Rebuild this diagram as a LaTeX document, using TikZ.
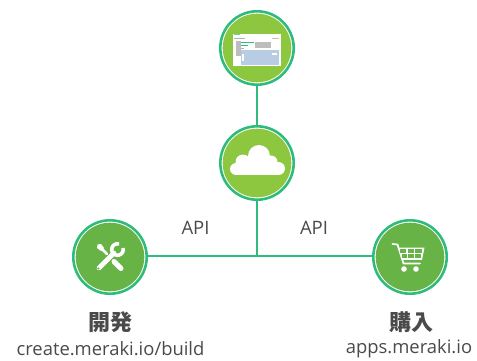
\documentclass[tikz,border=0pt]{standalone}
\usepackage{fontspec}
\setmainfont{Open Sans}
\newfontfamily\cjk{Noto Sans CJK JP}
\definecolor{ringgreen}{HTML}{2FBB7C}
\definecolor{lightfill}{HTML}{8DC63F}
\definecolor{darkfill}{HTML}{67B346}
\definecolor{labelgray}{HTML}{4A4A4A}
\definecolor{thumbblue}{HTML}{B8CCE4}
\definecolor{thumbgray}{HTML}{BDBDBD}
\tikzset{
  hub/.style={circle,draw=ringgreen,line width=2.6pt,minimum size=73.4pt,inner sep=0pt,outer sep=0pt,fill=white},
  wire/.style={draw=ringgreen,line width=1.8pt},
  apilabel/.style={text=labelgray,font=\fontsize{18.5}{20}\selectfont,inner sep=0pt},
  titlelabel/.style={text=labelgray,font=\cjk\bfseries\fontsize{22}{24}\selectfont,inner sep=0pt},
  urllabel/.style={text=labelgray,font=\fontsize{18.4}{20}\selectfont,inner sep=0pt},
}
\begin{document}
\begin{tikzpicture}[x=1pt,y=-1pt]
\useasboundingbox (0,0) rectangle (477,361);
\node[hub] (dash) at (257,48) {};
\node[hub] (cloud) at (257,163) {};
\node[hub] (dev) at (110,257) {};
\node[hub] (shop) at (410,257) {};
\coordinate (junction) at (257,256);
\draw[wire] (dash) -- (cloud);
\draw[wire] (cloud) -- (junction);
\draw[wire] (dev.east |- junction) -- (shop.west |- junction);
% inner discs
\fill[lightfill] (dash.center) circle (34.3);
\fill[lightfill] (cloud.center) circle (34.3);
\fill[darkfill] (dev.center) circle (34.3);
\fill[darkfill] (shop.center) circle (34.3);
% dashboard thumbnail
\begin{scope}[shift={(dash.center)}]
\fill[white] (-24,-14) rectangle (23.5,18);
\fill[ringgreen!70] (-23,-13.5) rectangle (-17,-12.5);
\fill[black!30] (-23,-10) rectangle (-12,-9.2);
\fill[black!25] (15,-9.5) rectangle (22,-8.7);
\fill[thumbgray] (-21,-6.5) rectangle (-16.5,8.5);
\fill[ringgreen] (-16,-5.8) rectangle (-3,-4.6);
\fill[ringgreen] (-16,-2.6) rectangle (-9,-1.6);
\fill[thumbgray] (-2.5,-6) rectangle (13.5,0);
\fill[black!30] (-16,0.2) rectangle (-13,1);
\fill[thumbblue] (-16,2) rectangle (22,17.5);
\fill[white] (15,5.5) rectangle (20,7.2);
\fill[white] (-15.5,6) rectangle (-13.2,13.5);
\end{scope}
% cloud
\begin{scope}[shift={(cloud.center)}]
\fill[white] (-21,6) circle (6);
\fill[white] (-14,-1) circle (7.5);
\fill[white] (2,-7) circle (11);
\fill[white] (14,-1) circle (6.5);
\fill[white] (21.5,5.5) circle (6.5);
\fill[white] (-21,0) rectangle (21.5,12);
\end{scope}
% tools
\begin{scope}[shift={(dev.center)}]
\draw[white,line width=5pt,line cap=round] (4,4.5) -- (11,11.5);
\draw[white,line width=2.6pt,line cap=round] (-3,-3) -- (-10.5,-10.5);
\fill[white] (-12.5,-12.5) -- (-9,-13) -- (-6,-9) -- (-9,-6) -- (-13,-9) -- cycle;
\draw[white,line width=4.6pt,line cap=round] (-11,11) -- (4,-4);
\draw[white,line width=3.6pt] (7.5,-7.5) ++(-15:5.8) arc[start angle=-15,end angle=285,radius=5.8];
\fill[darkfill] (-11.5,11.5) circle (1.2);
\end{scope}
% cart
\begin{scope}[shift={(shop.center)}]
\draw[white,line width=1.7pt,line cap=round,line join=round] (-17.5,-13) -- (-12.5,-12.5) -- (-6.5,6.5) -- (10,6.5);
\fill[white] (-12,-9.5) -- (14.5,-9.5) -- (12,2.8) -- (-8,2.8) -- cycle;
\foreach \xa/\xb in {-9.8/-3.6,-2.5/3.5,4.6/12.3}{
  \fill[darkfill] (\xa,-8) rectangle (\xb,-3.8);}
\foreach \xa/\xb in {-8.4/-3.2,-2.2/3.5,4.6/10.8}{
  \fill[darkfill] (\xa,-2.8) rectangle (\xb,1.3);}
\fill[white] (-6,12) circle (2.8);
\fill[white] (6,12) circle (2.8);
\end{scope}
\node[apilabel] (api1) at (195.5,228) {API};
\node[apilabel] (api2) at (314,228) {API};
\node[titlelabel] (t1) at (110,322) {開発};
\node[titlelabel] (t2) at (411,322) {購入};
\node[urllabel] (u1) at (110.5,349) {create.meraki.io/build};
\node[urllabel] (u2) at (409,349) {apps.meraki.io};
\end{tikzpicture}
\end{document}
